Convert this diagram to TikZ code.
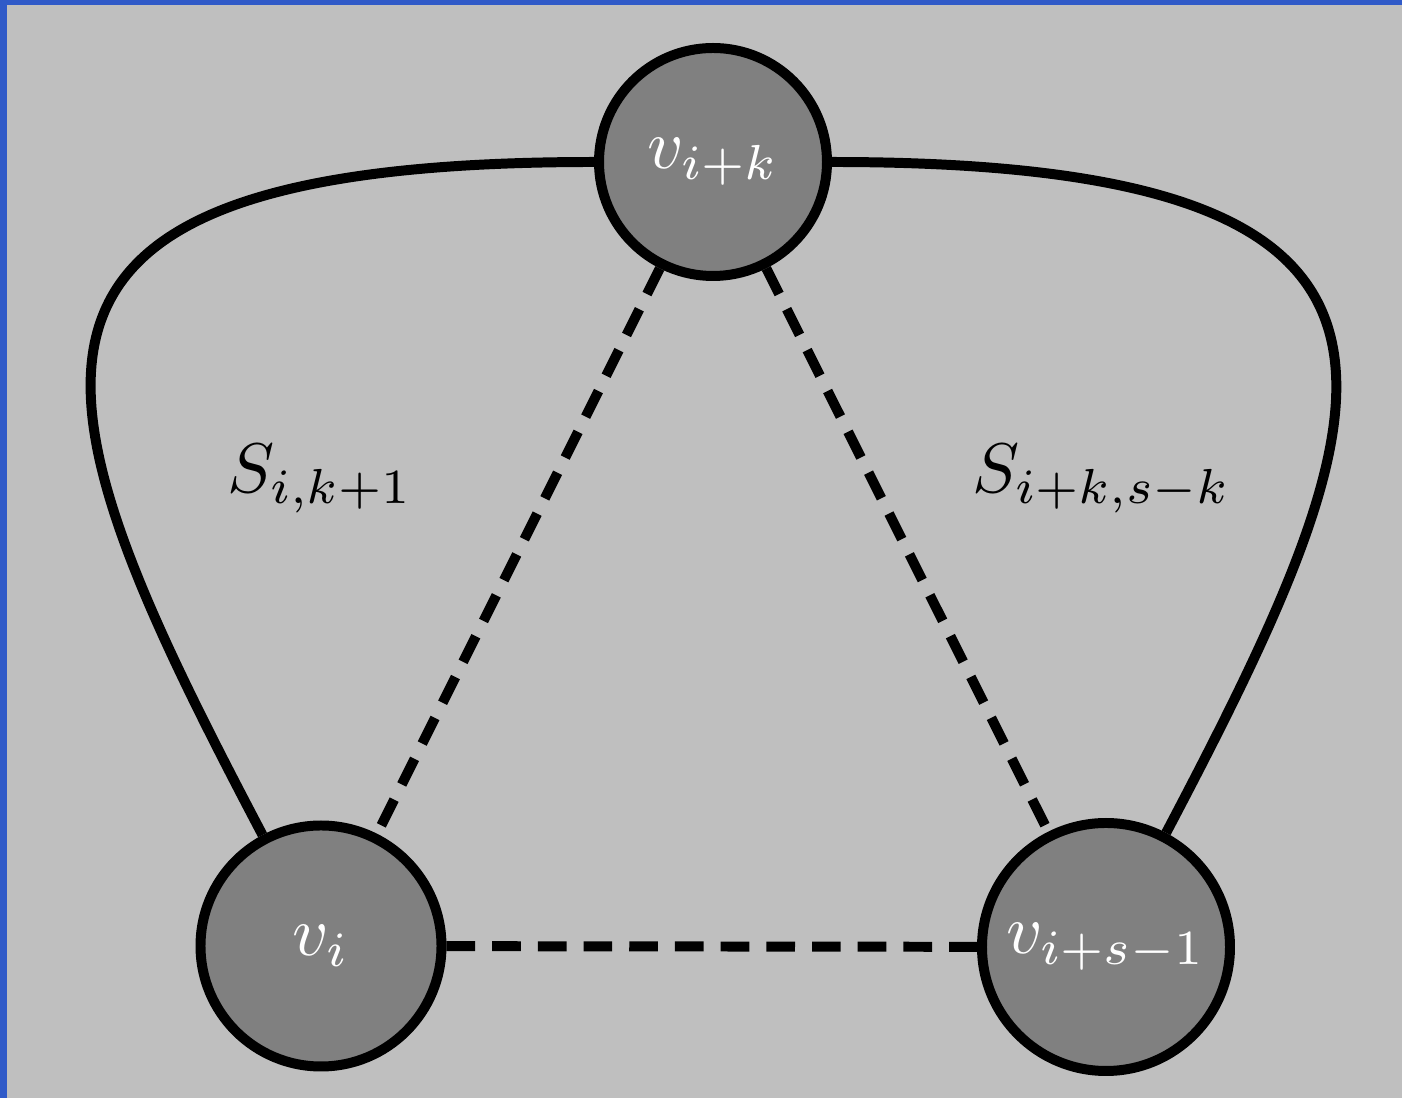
\documentclass[tikz,border=0pt]{standalone}
\usepackage{amsmath,amssymb}
\usetikzlibrary{calc}
\definecolor{bgblue}{RGB}{48,90,200}
\definecolor{bggray}{RGB}{191,191,191}
\definecolor{vtxgray}{RGB}{128,128,128}
\tikzset{vtx/.style={circle,draw=black,fill=vtxgray,line width=1.42pt,text=white,inner sep=0pt},
  pathedge/.style={line width=1.42pt},
  chordedge/.style={line width=1.42pt,dash pattern=on 4.08pt off 2.42pt}}

\begin{document}
\begin{tikzpicture}[x=0.5cm,y=0.5cm]
    %background
    \fill[bgblue] (0,0) rectangle (14.02,-10.98);
    \fill[bggray] (0.075,-0.05) rectangle (14.02,-10.98);
    \useasboundingbox (0,0) rectangle (14.02,-10.98);
    %vertices
    \node[vtx,minimum size=1.14cm] (vk) at (7.13,-1.62) {$v_{i+k}$};
    \node[vtx,minimum size=1.205cm] (vi) at (3.21,-9.46) {$v_i$};
    \node[vtx,minimum size=1.24cm] (vs) at (11.06,-9.47) {$v_{i+s-1}$};
    %labels
    \node[anchor=base] (lbl) at (3.20,-4.93) {$S_{i,k+1}$};
    \node[anchor=base] (lbr) at (11.02,-4.93) {$S_{i+k,s-k}$};
    %edges
    \draw[pathedge] (vk) .. controls +(-7.68,0) and +(-2.92,5.545) .. (vi);
    \draw[pathedge] (vk) .. controls +(7.68,0) and +(2.92,5.545) .. (vs);
    \draw[chordedge] (vk) -- (vi);
    \draw[chordedge] (vk) -- (vs);
    \draw[chordedge] (vi) -- (vs);
\end{tikzpicture}
\end{document}
